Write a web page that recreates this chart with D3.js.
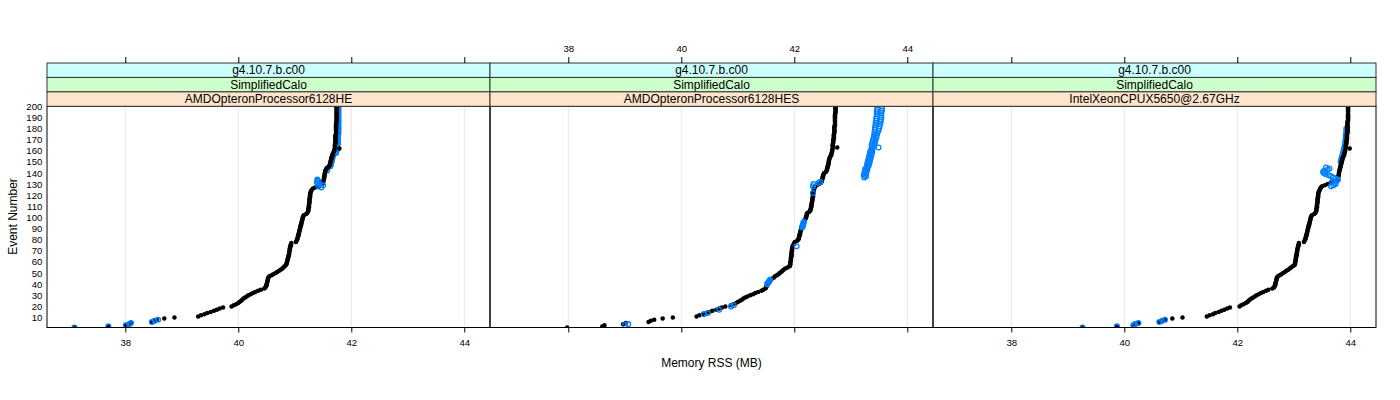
<!DOCTYPE html>
<html><head><meta charset="utf-8">
<script src="https://cdn.jsdelivr.net/npm/d3@7"></script>
<style>body{margin:0;background:#fff}svg{display:block;font-family:"Liberation Sans",Arial,Helvetica,sans-serif}</style>
</head><body><svg id="c" width="1400" height="400"></svg>
<script>
// ---------------- data ----------------
const events = d3.range(1, 201); // event numbers 1..200
const versionLabel = "g4.10.7.b.c00";
const testLabel = "SimplifiedCalo";
const cpuLabels = ["AMDOpteronProcessor6128HE", "AMDOpteronProcessor6128HES", "IntelXeonCPUX5650@2.67GHz"];
const xTicks = [38, 40, 42, 44];
const yTicks = [10,20,30,40,50,60,70,80,90,100,110,120,130,140,150,160,170,180,190,200];
const xLabel = "Memory RSS (MB)";
const yLabel = "Event Number";

// black series: Memory RSS per event (events 1..200)
const rssBlackHE = [
37.10,37.70,38.01,38.05,38.10,38.47,38.52,38.56,38.69,38.87,
39.29,39.34,39.40,39.45,39.51,39.57,39.62,39.67,39.73,39.88,
39.92,39.96,40.00,40.02,40.05,40.07,40.09,40.12,40.15,40.18,
40.22,40.26,40.30,40.35,40.40,40.46,40.48,40.49,40.50,40.50,
40.51,40.51,40.52,40.52,40.53,40.53,40.55,40.59,40.62,40.66,
40.69,40.72,40.75,40.78,40.80,40.82,40.84,40.85,40.86,40.86,
40.87,40.87,40.88,40.88,40.89,40.89,40.90,40.90,40.90,40.91,
40.91,40.91,40.92,40.92,40.93,40.93,40.94,41.02,41.03,41.04,
41.05,41.05,41.06,41.06,41.07,41.07,41.08,41.08,41.09,41.09,
41.10,41.10,41.11,41.11,41.12,41.12,41.13,41.13,41.14,41.14,
41.15,41.16,41.20,41.22,41.23,41.24,41.24,41.24,41.25,41.25,
41.25,41.25,41.26,41.26,41.26,41.26,41.26,41.27,41.27,41.27,
41.27,41.28,41.28,41.29,41.30,41.32,41.36,41.40,41.44,41.48,
41.50,41.50,41.51,41.51,41.52,41.52,41.52,41.53,41.53,41.53,
41.54,41.54,41.55,41.56,41.58,41.61,41.62,41.62,41.63,41.63,
41.64,41.64,41.65,41.65,41.66,41.67,41.67,41.68,41.69,41.70,
41.70,41.79,41.71,41.71,41.71,41.71,41.72,41.72,41.72,41.72,
41.72,41.72,41.72,41.72,41.73,41.73,41.73,41.73,41.73,41.73,
41.73,41.73,41.73,41.73,41.73,41.74,41.74,41.74,41.74,41.74,
41.74,41.74,41.74,41.74,41.74,41.74,41.74,41.74,41.74,41.74];

const rssBlackHES = [
37.98,38.60,38.64,38.97,39.02,39.42,39.46,39.52,39.67,39.85,
40.27,40.32,40.38,40.44,40.50,40.55,40.62,40.67,40.72,40.78,
40.88,40.92,40.97,41.00,41.04,41.07,41.10,41.13,41.17,41.22,
41.27,41.31,41.36,41.42,41.45,41.49,41.50,41.51,41.52,41.52,
41.53,41.54,41.55,41.58,41.61,41.64,41.66,41.69,41.72,41.74,
41.77,41.79,41.81,41.84,41.88,41.92,41.92,41.93,41.93,41.93,
41.94,41.94,41.94,41.94,41.95,41.95,41.95,41.95,41.95,41.96,
41.96,41.96,41.97,41.97,41.98,41.99,42.00,42.01,42.05,42.07,
42.08,42.08,42.09,42.09,42.10,42.10,42.11,42.11,42.12,42.12,
42.13,42.13,42.14,42.15,42.16,42.17,42.18,42.19,42.20,42.21,
42.21,42.22,42.22,42.23,42.26,42.28,42.29,42.29,42.30,42.30,
42.30,42.31,42.31,42.31,42.32,42.32,42.32,42.33,42.33,42.33,
42.33,42.34,42.34,42.34,42.35,42.35,42.36,42.37,42.40,42.44,
42.47,42.48,42.49,42.49,42.50,42.50,42.51,42.51,42.52,42.53,
42.56,42.57,42.58,42.58,42.59,42.59,42.60,42.60,42.61,42.61,
42.61,42.62,42.62,42.63,42.64,42.65,42.66,42.66,42.67,42.67,
42.67,42.68,42.76,42.68,42.68,42.68,42.69,42.69,42.69,42.69,
42.70,42.70,42.70,42.70,42.70,42.71,42.71,42.71,42.71,42.71,
42.71,42.71,42.72,42.72,42.72,42.72,42.72,42.72,42.72,42.72,
42.72,42.72,42.72,42.73,42.73,42.73,42.73,42.73,42.73,42.73];

const rssBlackX5650 = [
39.26,39.87,40.16,40.19,40.25,40.62,40.67,40.72,40.85,41.03,
41.46,41.51,41.57,41.61,41.67,41.72,41.77,41.82,41.87,42.04,
42.07,42.11,42.15,42.18,42.20,42.22,42.25,42.28,42.31,42.34,
42.38,42.42,42.46,42.51,42.55,42.62,42.65,42.66,42.67,42.67,
42.68,42.68,42.69,42.69,42.70,42.70,42.72,42.75,42.78,42.81,
42.84,42.87,42.90,42.93,42.95,42.98,43.01,43.02,43.02,43.03,
43.03,43.03,43.04,43.04,43.04,43.05,43.05,43.05,43.06,43.06,
43.06,43.07,43.07,43.08,43.08,43.09,43.09,43.18,43.19,43.20,
43.21,43.21,43.22,43.22,43.23,43.23,43.24,43.24,43.25,43.25,
43.26,43.26,43.27,43.27,43.28,43.28,43.29,43.29,43.30,43.30,
43.31,43.32,43.36,43.38,43.39,43.40,43.40,43.40,43.41,43.41,
43.41,43.41,43.42,43.42,43.42,43.42,43.42,43.43,43.43,43.43,
43.43,43.44,43.44,43.45,43.46,43.47,43.48,43.50,43.55,43.60,
43.65,43.70,43.74,43.77,43.78,43.78,43.79,43.79,43.80,43.80,
43.80,43.81,43.81,43.82,43.82,43.83,43.83,43.84,43.84,43.85,
43.85,43.86,43.86,43.87,43.88,43.89,43.89,43.90,43.90,43.91,
43.91,43.99,43.92,43.92,43.92,43.93,43.93,43.93,43.93,43.94,
43.94,43.94,43.94,43.94,43.94,43.95,43.95,43.95,43.95,43.95,
43.95,43.95,43.95,43.95,43.95,43.95,43.96,43.96,43.96,43.96,
43.96,43.96,43.96,43.96,43.96,43.96,43.96,43.96,43.96,43.96];

// blue series: only the events where it is visible
const blueEventsHE = [1,2,3,4,5,6,7,8,127,128,129,130,131,132,133,134,
142,144,146,148,150,152,154,156,158,159,160,161,162,163,164,165,166,167,168,169,170,171,172,173,174,175,176,177,178,179,
180,181,182,183,184,185,186,187,188,189,190,191,192,193,194,195,196,197,198,199,200];
const blueRssHE = [37.10,37.70,38.01,38.07,38.10,38.47,38.52,38.58,41.47,41.42,41.50,41.44,41.40,41.39,41.41,41.40,
41.57,41.58,41.63,41.64,41.65,41.66,41.67,41.68,41.73,41.73,41.74,41.74,41.75,41.75,41.75,41.75,41.76,41.76,41.76,41.76,41.76,41.76,41.76,41.76,41.76,41.77,41.77,41.77,41.77,41.77,
41.77,41.77,41.77,41.77,41.77,41.77,41.77,41.77,41.77,41.77,41.77,41.77,41.77,41.77,41.77,41.77,41.77,41.77,41.77,41.77,41.77];

const blueEventsHES = [3,4,13,14,17,20,21,40,41,42,43,44,74,91,92,93,94,95,96,122,128,130,131,132,
136,137,138,139,140,141,142,143,144,145,146,147,148,149,150,151,152,153,154,155,156,157,158,159,160,
161,162,163,164,165,166,167,168,169,170,171,172,173,174,175,176,177,178,179,180,
181,182,183,184,185,186,187,188,189,190,191,192,193,194,195,196,197,198,199,200];
const blueRssHES = [39.00,39.06,40.40,40.47,40.67,40.88,40.93,41.52,41.53,41.55,41.56,41.57,42.04,42.14,42.15,42.15,42.16,42.16,42.17,42.33,42.33,42.34,42.43,42.46,
43.24,43.27,43.23,43.27,43.24,43.28,43.25,43.29,43.26,43.30,43.29,43.32,43.29,43.33,43.30,43.34,43.31,43.35,43.32,43.36,43.33,43.37,43.34,43.38,43.35,
43.38,43.37,43.49,43.41,43.37,43.42,43.38,43.43,43.39,43.44,43.40,43.45,43.41,43.46,43.42,43.47,43.42,43.49,43.43,43.50,
43.43,43.51,43.44,43.52,43.44,43.53,43.45,43.53,43.45,43.54,43.46,43.54,43.46,43.54,43.46,43.55,43.47,43.55,43.47,43.55];

const blueEventsX5650 = [1,2,3,4,5,6,7,8,128,129,130,131,132,133,134,135,136,137,138,139,140,141,142,143,144,145,
150,152,154,156,158,160,162,164,166,168,170,172,174,176,178,180];
const blueRssX5650 = [39.26,39.87,40.16,40.19,40.25,40.62,40.67,40.72,43.66,43.70,43.74,43.72,43.68,43.76,43.78,43.74,43.70,43.66,43.62,43.56,43.53,43.52,43.54,43.60,43.63,43.57,
43.83,43.84,43.85,43.86,43.87,43.88,43.89,43.90,43.91,43.91,43.92,43.92,43.92,43.93,43.93,43.93];

// first event from which blue marks sit beneath the black ones (per panel)
const blueUnderFrom = [140, 999, 146];

const panels = [
  {cpu: cpuLabels[0], black: rssBlackHE, blueEv: blueEventsHE, blueRss: blueRssHE, under: blueUnderFrom[0]},
  {cpu: cpuLabels[1], black: rssBlackHES, blueEv: blueEventsHES, blueRss: blueRssHES, under: blueUnderFrom[1]},
  {cpu: cpuLabels[2], black: rssBlackX5650, blueEv: blueEventsX5650, blueRss: blueRssX5650, under: blueUnderFrom[2]}
];

// ---------------- layout ----------------
const svg = d3.select("#c");
svg.append("rect").attr("width", 1400).attr("height", 400).attr("fill", "#fff");
const left0 = 47, pw = 443, pTop = 106.3, pBot = 327.5, stripTop = 63;
const stripH = (pTop - stripTop) / 3;
const x = d3.scaleLinear().domain([36.614, 44.455]).range([0, pw]);
const y = d3.scaleLinear().domain([1, 200]).range([pBot, pTop]);
const stripCols = ["#ccffff", "#ccffcc", "#ffe5cc"];
const FONT = '"Liberation Sans",Arial,Helvetica,sans-serif';

const defs = svg.append("defs");
defs.append("clipPath").attr("id", "pclip").append("rect")
  .attr("x", 0).attr("y", pTop).attr("width", pw).attr("height", pBot - pTop);

panels.forEach((p, i) => {
  const g = svg.append("g").attr("transform", `translate(${left0 + i * pw},0)`);
  // grid
  g.selectAll("line.grid").data(xTicks).join("line").attr("class", "grid")
    .attr("x1", d => x(d)).attr("x2", d => x(d)).attr("y1", pTop).attr("y2", pBot)
    .attr("stroke", "#e6e6e6").attr("stroke-width", 1);
  const pg = g.append("g").attr("clip-path", "url(#pclip)");
  const blue = p.blueEv.map((e, k) => ({e, v: p.blueRss[k]}));
  const drawBlue = (sel, data, cls) => sel.selectAll("circle." + cls).data(data).join("circle").attr("class", cls)
    .attr("cx", d => x(d.v)).attr("cy", d => y(d.e)).attr("r", 2.4)
    .attr("fill", "none").attr("stroke", "#0080ff").attr("stroke-width", 1.3);
  drawBlue(pg, blue.filter(d => d.e >= p.under), "bu");
  // black series
  pg.selectAll("circle.blk").data(events).join("circle").attr("class", "blk")
    .attr("cx", (d, k) => x(p.black[k])).attr("cy", d => y(d)).attr("r", 2.25)
    .attr("fill", "#000");
  drawBlue(pg, blue.filter(d => d.e < p.under), "bo");
  // panel border
  g.append("rect").attr("x", 0).attr("y", pTop).attr("width", pw).attr("height", pBot - pTop)
    .attr("fill", "none").attr("stroke", "#000").attr("stroke-width", 1);
  // strips
  const labels = [versionLabel, testLabel, p.cpu];
  labels.forEach((lab, j) => {
    const sy = stripTop + j * stripH;
    g.append("rect").attr("x", 0).attr("y", sy).attr("width", pw).attr("height", stripH)
      .attr("fill", stripCols[j]).attr("stroke", "#333").attr("stroke-width", 1);
    g.append("text").attr("x", pw / 2).attr("y", sy + 11.4).attr("text-anchor", "middle")
      .attr("font-size", 12).attr("font-family", FONT).attr("fill", "#000").text(lab);
  });
  // bottom axis
  const ab = g.append("g").attr("transform", `translate(0,${pBot})`)
    .call(d3.axisBottom(x).tickValues(xTicks).tickSize(5).tickPadding(7)
      .tickFormat(i === 1 ? () => "" : d3.format("d")));
  // top axis
  const at = g.append("g").attr("transform", `translate(0,${stripTop})`)
    .call(d3.axisTop(x).tickValues(xTicks).tickSize(6).tickPadding(5)
      .tickFormat(i === 1 ? d3.format("d") : () => ""));
  [ab, at].forEach(a => {
    a.select(".domain").remove();
    a.attr("font-family", FONT).attr("font-size", 9.6);
    a.selectAll("line").attr("stroke", "#000");
  });
  if (i === 0) {
    const ay = g.append("g").call(d3.axisLeft(y).tickValues(yTicks).tickSize(0).tickPadding(4.7));
    ay.select(".domain").remove();
    ay.attr("font-family", FONT).attr("font-size", 9.6);
  }
});

svg.append("text").attr("x", left0 + 1.5 * pw).attr("y", 366.5).attr("text-anchor", "middle")
  .attr("font-size", 12).attr("font-family", FONT).text(xLabel);
svg.append("text").attr("transform", "translate(17.3,216.5) rotate(-90)").attr("text-anchor", "middle")
  .attr("font-size", 12).attr("font-family", FONT).text(yLabel);
</script></body></html>
